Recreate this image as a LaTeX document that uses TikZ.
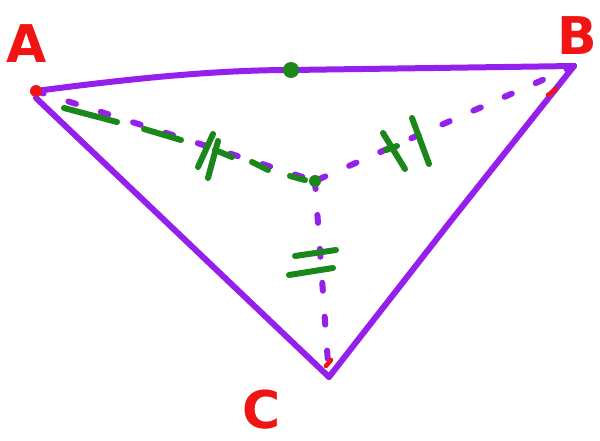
\documentclass[tikz,border=0pt]{standalone}
\usepackage{fontspec}
\setsansfont{DejaVu Sans}
\begin{document}
\begin{tikzpicture}[x=1pt,y=-1pt,
  side/.style={draw=purp,line width=6pt,line cap=round,line join=round},
  seg/.style={draw=purp,line width=6pt,line cap=round,dash pattern=on 8pt off 26pt},
  gmark/.style={draw=grn,line width=6pt,line cap=round},
  rmark/.style={draw=rd,line width=4.5pt,line cap=round},
  lab/.style={text=rd,font=\sffamily\bfseries\fontsize{52}{52}\selectfont}]
\definecolor{purp}{RGB}{150,32,235}
\definecolor{grn}{RGB}{25,135,25}
\definecolor{rd}{RGB}{240,20,20}
\useasboundingbox[fill=white] (0,0) rectangle (600,440);
% vertices
\coordinate (A) at (36,91);
\coordinate (B) at (574,66);
\coordinate (C) at (329,377);
\coordinate (O) at (315,181);
\coordinate (M) at (291,70);
% sides
\draw[side] (A) .. controls (120,80) and (210,70) .. (M) -- (B);
\draw[side] (B) -- (450,222) -- (C);
\draw[side] (36,98) -- (C);
% dashed to centre
\draw[seg] (A) -- (O);
\draw[seg] (B) -- (O);
\draw[seg] (O) -- (C);
% green overlay on A-O
\draw[gmark] (64,108) -- (117,122);
\draw[gmark] (144,129) -- (181,140);
\draw[gmark] (215,150) -- (232,157);
\draw[gmark] (252,162) -- (268,170);
\draw[gmark] (290,176) -- (305,180);
% double ticks on A-O
\draw[gmark] (198,167) -- (213,134);
\draw[gmark] (208,178) -- (218,141);
% double ticks on B-O
\draw[gmark] (383,133) -- (405,169);
\draw[gmark] (412,118) -- (429,164);
\draw[gmark] (386,150) -- (397,146);
% double ticks on C-O
\draw[gmark] (295,256) -- (336,250);
\draw[gmark] (289,275) -- (333,268);
% red marks
\draw[rmark] (548,95) -- (556,89);
\draw[rmark] (326,366) -- (331,360);
% dots
\fill[rd] (A) circle (6);
\fill[grn] (M) circle (8);
\fill[grn] (O) circle (6);
% labels
\node[lab] (la) at (27,44) {A};
\node[lab] (lb) at (577,36) {B};
\node[lab] (lc) at (262,410) {C};
\end{tikzpicture}
\end{document}
